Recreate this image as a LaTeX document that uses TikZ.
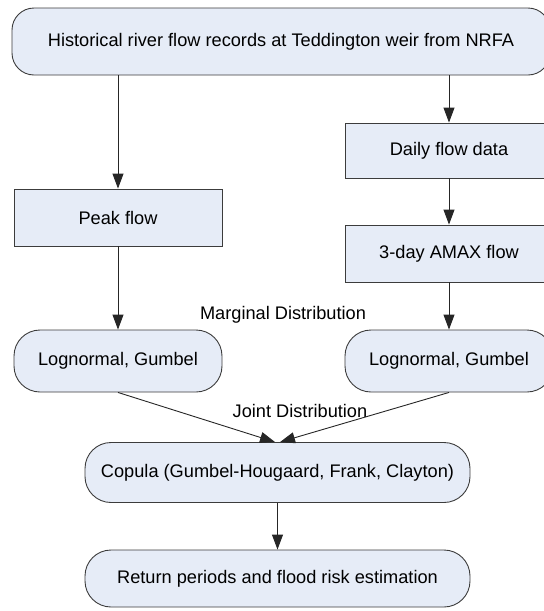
\documentclass[tikz,border=0pt]{standalone}
\usepackage{fontspec}
\setmainfont{Liberation Sans}
\usetikzlibrary{arrows.meta}
\definecolor{boxfill}{RGB}{230,236,247}
\definecolor{boxline}{RGB}{60,60,60}
\begin{document}
\begin{tikzpicture}[x=1pt,y=-1pt,
  box/.style={draw=boxline,fill=boxfill,line width=0.9pt,font=\fontsize{18.2}{21}\selectfont,inner sep=0pt},
  sqbox/.style={box},
  rbox/.style={box,rounded corners=26pt},
  arr/.style={draw=black!85,line width=0.9pt,-{Triangle[length=15pt,width=11pt]}},
  lbl/.style={font=\fontsize{18.2}{21}\selectfont,inner sep=0pt}]
\useasboundingbox (0,0) rectangle (544,611);
\node[rbox,rounded corners=22pt,minimum width=538pt,minimum height=67pt] (top) at (281,41.5) {Historical river flow records at Teddington weir from NRFA};
\node[sqbox,minimum width=208pt,minimum height=57pt] (peak) at (118,217.5) {Peak flow};
\node[sqbox,minimum width=208pt,minimum height=55pt] (daily) at (449,150.5) {Daily flow data};
\node[sqbox,minimum width=208pt,minimum height=57pt] (amax) at (449,253.5) {3-day AMAX flow};
\node[rbox,minimum width=208pt,minimum height=62pt] (lnl) at (118,361) {Lognormal, Gumbel};
\node[rbox,minimum width=208pt,minimum height=62pt] (lnr) at (449,361) {Lognormal, Gumbel};
\node[rbox,minimum width=385pt,minimum height=60pt] (cop) at (277.5,472.5) {Copula (Gumbel-Hougaard, Frank, Clayton)};
\node[rbox,minimum width=385pt,minimum height=57pt] (ret) at (277.5,578.5) {Return periods and flood risk estimation};
\node[lbl] (marg) at (283,315) {Marginal Distribution};
\node[lbl] (joint) at (300,411) {Joint Distribution};
\coordinate (cl) at (275,0);
\coordinate (cr) at (280,0);
\draw[arr] (top.south -| peak.north) -- (peak.north);
\draw[arr] (top.south -| daily.north) -- (daily.north);
\draw[arr] (daily.south) -- (amax.north);
\draw[arr] (peak.south) -- (lnl.north);
\draw[arr] (amax.south) -- (lnr.north);
\draw[arr] (lnl.south) -- (cop.north -| cl);
\draw[arr] (lnr.south) -- (cop.north -| cr);
\draw[arr] (cop.south) -- (ret.north);
\end{tikzpicture}
\end{document}
